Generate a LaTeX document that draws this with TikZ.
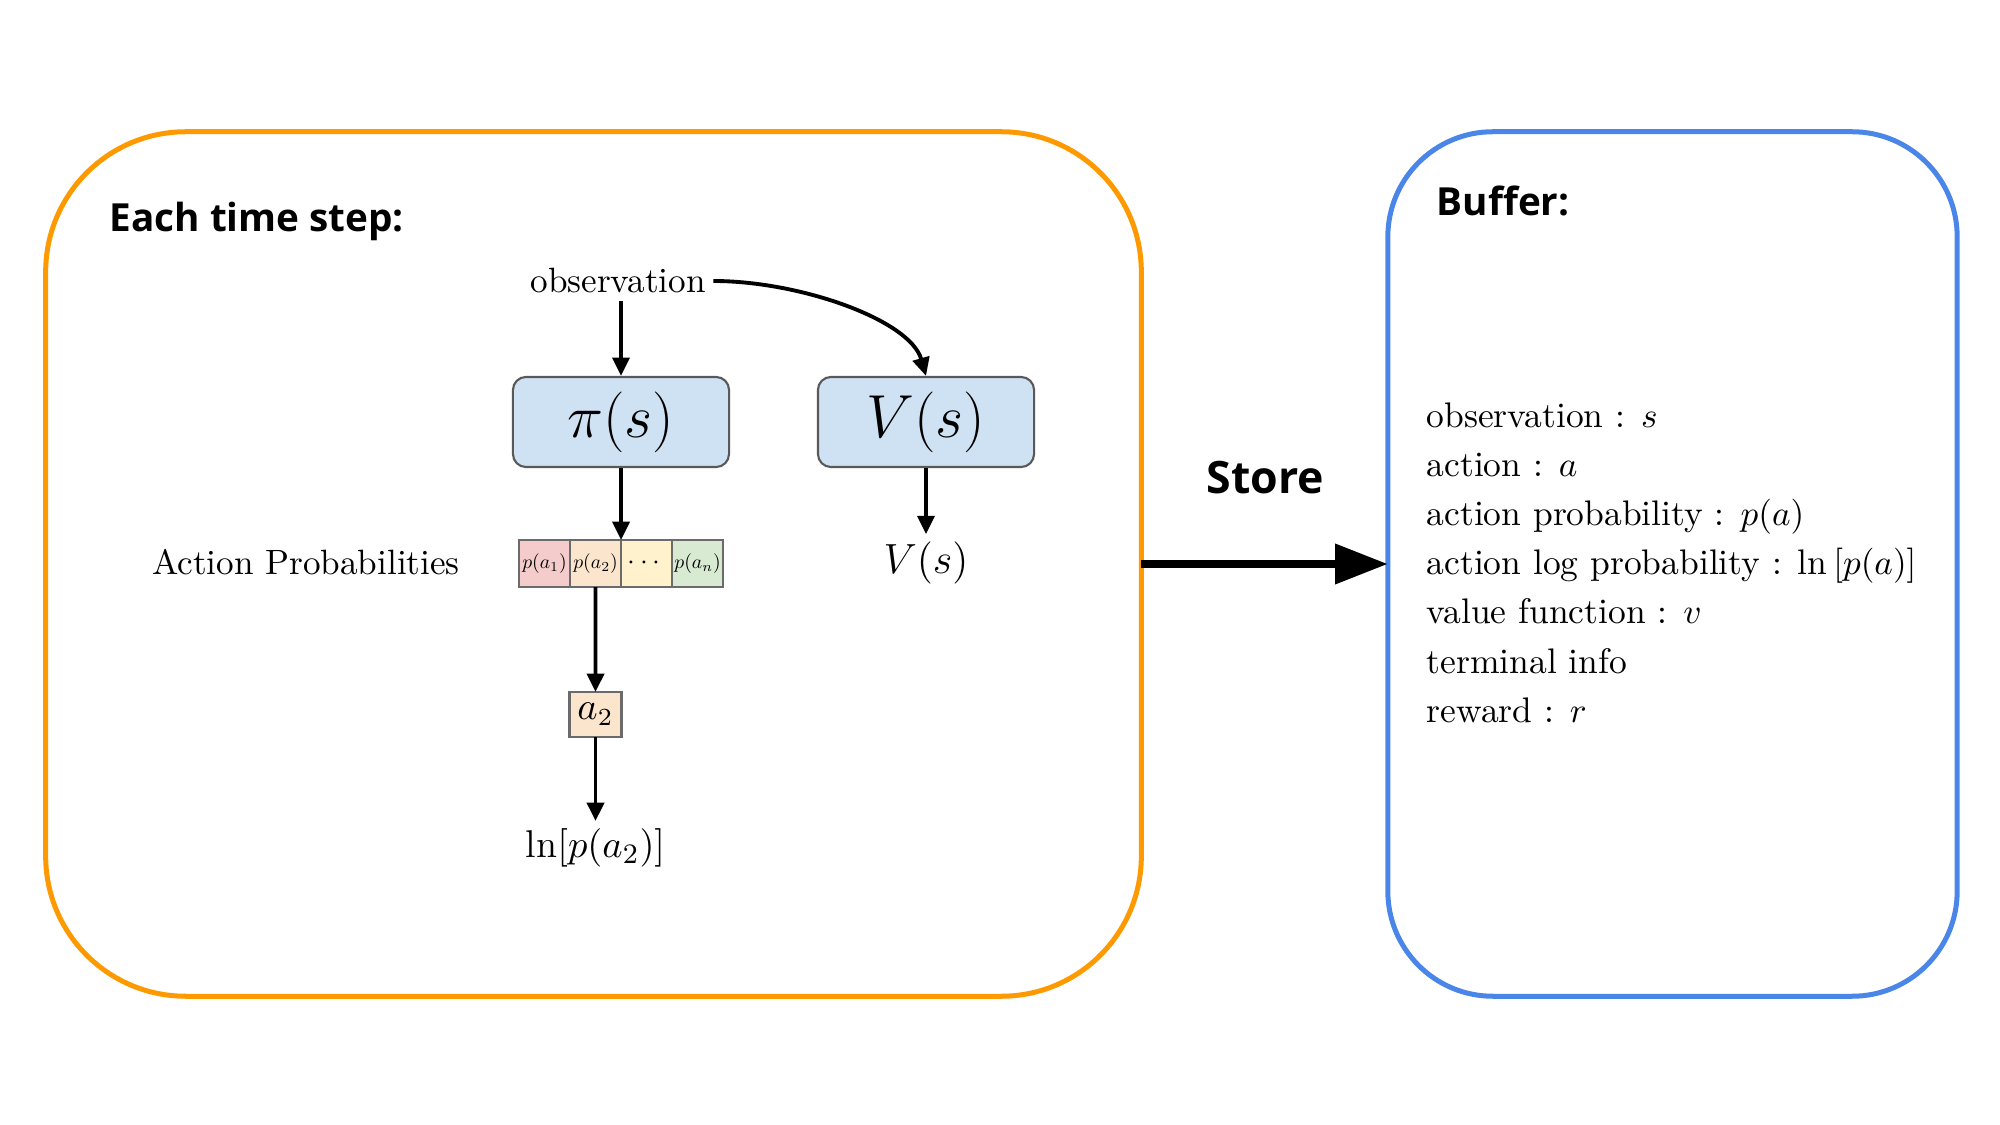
\documentclass[tikz,border=0pt]{standalone}
\usepackage{amsmath}
\usepackage{fontspec}
\newfontfamily\headfont{Open Sans}
\usetikzlibrary{arrows.meta,positioning}

\definecolor{stepframe}{HTML}{FF9900}
\definecolor{bufframe}{HTML}{4A86E8}
\definecolor{netfill}{HTML}{CFE2F3}
\definecolor{netborder}{HTML}{595959}
\definecolor{cellborder}{HTML}{6B6B6B}
\definecolor{pone}{HTML}{F4CCCC}
\definecolor{ptwo}{HTML}{FCE5CD}
\definecolor{pdots}{HTML}{FFF2CC}
\definecolor{plast}{HTML}{D9EAD3}

\newcommand\cellmath[2][0.56]{\scalebox{#1}{$#2$}}

\begin{document}
\begin{tikzpicture}[x=0.01cm, y=-0.01cm, >={Triangle[length=5.2pt,width=4.8pt]},
   frame/.style={draw, line width=0.05cm, outer sep=0pt, minimum height=8.64cm},
   net/.style={draw=netborder, fill=netfill, rounded corners=0.13cm, line width=0.6pt,
      minimum width=2.16cm, minimum height=0.9cm},
   cell/.style={draw=cellborder, line width=0.6pt, minimum width=0.51cm, minimum height=0.47cm,
      inner sep=0pt, outer sep=0pt},
   lbl/.style={inner sep=2pt},
   head/.style={inner sep=0pt, anchor=base west, font=\headfont\bfseries\fontsize{11}{13}\selectfont},
   item/.style={inner sep=0pt, anchor=base west, font=\fontsize{10.1}{12}\selectfont},
   link/.style={->, line width=1.1pt}]
   \useasboundingbox (0,0) rectangle (2000,1125);

   % the two frames
   \node (step) at (593.5,564) [frame, draw=stepframe, rounded corners=1.4cm, minimum width=10.95cm] {};
   \node (buffer) at (1672.5,564) [frame, draw=bufframe, rounded corners=1.05cm, minimum width=5.69cm] {};
   \node (steptitle) at (109,232) [head] {Each time step:};
   \node (buftitle) at (1436,216) [head] {Buffer:};

   % networks
   \node (obs) at (618,293) [lbl, anchor=base] {observation};
   \node (pi) at (621,422) [net, font=\fontsize{18.5}{20}\selectfont] {$\pi(s)$};
   \node (vs) at (926,422) [net, font=\fontsize{16.5}{18}\selectfont] {$V(s)$};
   \node (vout) at (926,563) [lbl, font=\fontsize{12.2}{14}\selectfont] {$V(s)$};

   % action probabilities
   \node (aplabel) at (306,575) [lbl, anchor=base] {Action Probabilities};
   \node (p1) at (544.5,563.5) [cell, fill=pone] {\cellmath{p(a_1)}};
   \node (p2) [cell, fill=ptwo, right=0pt of p1] {\cellmath{p(a_2)}};
   \node (p3) [cell, fill=pdots, right=0pt of p2] {\cellmath[0.8]{\cdots}};
   \node (p4) [cell, fill=plast, right=0pt of p3] {\cellmath{p(a_n)}};
   \node (act) at (595.5,714.5) [cell, fill=ptwo, minimum width=0.52cm, minimum height=0.45cm,
      font=\fontsize{10.5}{12}\selectfont] {$a_2$};
   \node (logp) at (595.5,848) [lbl, font=\fontsize{11}{13}\selectfont] {$\ln[p(a_2)]$};

   \draw[link] (pi.north |- obs.south) -- (pi.north);
   \draw[link] (obs.east) .. controls (800,281) and (910,320) .. (vs.north);
   \draw[link] (pi.south) -- (p2.north east);
   \draw[link] (vs.south) -- (vout.north);
   \draw[link] (p2.south) -- (act.north);
   \draw[link] (act.south) -- (logp.north);

   % store
   \node (storelbl) at (1206,494) [head, font=\headfont\bfseries\fontsize{12.7}{15}\selectfont] {Store};
   \draw[line width=0.08cm, -{Triangle[length=15pt,width=11pt]}] (step) -- (buffer);

   % buffer contents
   \foreach \txt [count=\i] in {observation : $s$, action : $a$, action probability : $p(a)$,
      action log probability : $\ln\left[p(a)\right]$, value function : $v$, terminal info, reward : $r$}
      \node (buf\i) at (1426,{428+49*(\i-1)}) [item] {\txt};
\end{tikzpicture}
\end{document}
